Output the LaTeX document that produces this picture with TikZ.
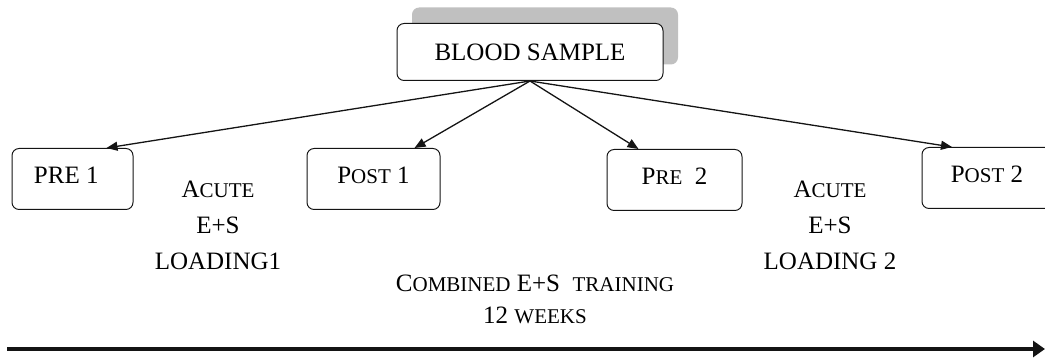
\documentclass[tikz,border=0pt]{standalone}
\usepackage{fontspec}
\setmainfont{Liberation Serif}
\usepackage{xcolor}
\usetikzlibrary{arrows.meta,positioning,shadows}
\definecolor{ink}{RGB}{20,20,20}
\definecolor{shadowgray}{RGB}{192,192,192}
\newcommand{\smc}[1]{{\fontsize{21}{24}\selectfont #1}}
\tikzset{
  stagebox/.style={rectangle, rounded corners=2.5mm, draw=ink, line width=1pt,
                   fill=white, align=center, minimum height=61pt, text depth=8pt,
                   font=\fontsize{25}{30}\selectfont},
  samplebox/.style={stagebox, minimum width=266pt, minimum height=57pt, text depth=0pt,
                    general shadow={fill=shadowgray, shadow xshift=15pt, shadow yshift=16pt}},
  phase/.style={align=center, font=\fontsize{25}{36}\selectfont, inner sep=0pt},
  arr/.style={-{Triangle[length=11pt,width=9pt]}, line width=1.3pt, color=ink},
  timeline/.style={-{Triangle[length=12pt,width=16pt]}, line width=4pt, color=ink},
}
\begin{document}
\begin{tikzpicture}[x=1pt,y=1pt]
  \useasboundingbox (0,0) rectangle (1045,358);
  \clip (0,0) rectangle (1045,358);
  % sampling points
  \node[samplebox] (blood) at (530,306) {BLOOD SAMPLE};
  \node[stagebox, minimum width=121pt] (pre1) at (72.5,179) {PRE 1\ \ };
  \node[stagebox, minimum width=133pt] (post1) at (373.5,179) {P\smc{OST} 1};
  \node[stagebox, minimum width=135pt] (pre2) at (674.5,178) {P\smc{RE}\ \ 2};
  \node[stagebox, minimum width=130pt] (post2) at (987,180) {P\smc{OST} 2};
  % interventions
  \node[phase] (acute1) at (218,133) {A\smc{CUTE}\\E+S\\LOADING1};
  \node[phase] (acute2) at (830,133) {A\smc{CUTE}\\E+S\\LOADING 2};
  \node[phase, font=\fontsize{25}{32}\selectfont] (train) at (535,59)
    {C\smc{OMBINED} E+S\ \ \smc{TRAINING}\\12 \smc{WEEKS}};
  \draw[arr] (blood.south) -- ([xshift=34pt]pre1.north);
  \draw[arr] (blood.south) -- ([xshift=41pt]post1.north);
  \draw[arr] (blood.south) -- ([xshift=-36pt]pre2.north);
  \draw[arr] (blood.south) -- ([xshift=-35pt]post2.north);
  % time axis
  \coordinate (tstart) at (7,9);
  \coordinate (tend) at (1045,9);
  \draw[timeline] (tstart) -- (tend);
\end{tikzpicture}
\end{document}
